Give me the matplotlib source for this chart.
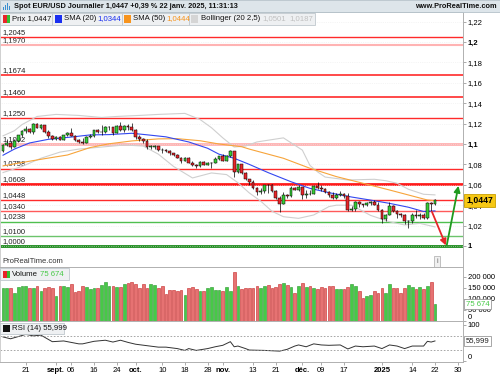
import numpy as np
import pandas as pd
import matplotlib
matplotlib.use('Agg')
import matplotlib.pyplot as plt
from matplotlib.patches import Rectangle

plt.rcParams['font.family'] = ['Liberation Sans', 'DejaVu Sans']

# ---------- данные (EUR/USD, дневные свечи) ----------
days = pd.bdate_range('2024-08-13', '2025-01-22')
days = days[~days.isin(pd.to_datetime(['2024-12-25', '2025-01-01']))]

opens = [1.0932, 1.0993, 1.1012, 1.0970, 1.1027, 1.1086, 1.1130, 1.1151, 1.1113, 1.1192, 1.1160, 1.1183, 1.1121, 1.1077,
         1.1047, 1.1073, 1.1044, 1.1087, 1.1111, 1.1083, 1.1038, 1.1017, 1.1011, 1.1073, 1.1076, 1.1133, 1.1116, 1.1117, 1.1163, 1.1163, 1.1111, 1.1179, 1.1133, 1.1180, 1.1164,
         1.1135, 1.1069, 1.1045, 1.1032, 1.0973, 1.0975, 1.0979, 1.0941, 1.0937, 1.0936, 1.0909, 1.0891, 1.0862, 1.0832, 1.0866, 1.0817, 1.0797, 1.0781, 1.0826, 1.0797, 1.0815, 1.0817, 1.0855,
         1.0884, 1.0833, 1.0879, 1.0931, 1.0729, 1.0800, 1.0719, 1.0654, 1.0623, 1.0565, 1.0529, 1.0543, 1.0597, 1.0596, 1.0542, 1.0473, 1.0415, 1.0496, 1.0488, 1.0566, 1.0553,
         1.0577, 1.0498, 1.0512, 1.0511, 1.0585, 1.0567, 1.0555, 1.0528, 1.0502, 1.0469, 1.0502, 1.0510, 1.0491, 1.0351, 1.0364, 1.0430, 1.0407, 1.0406, 1.0422, 1.0428, 1.0406,
         1.0354, 1.0265, 1.0308, 1.0389, 1.0344, 1.0317, 1.0301, 1.0244, 1.0245, 1.0308, 1.0290, 1.0300, 1.0273, 1.0418, 1.0412]
highs = [1.0996, 1.1047, 1.1030, 1.1048, 1.1090, 1.1135, 1.1174, 1.1160, 1.1201, 1.1202, 1.1196, 1.1190, 1.1135, 1.1090,
         1.1075, 1.1078, 1.1090, 1.1120, 1.1155, 1.1090, 1.1050, 1.1055, 1.1080, 1.1100, 1.1140, 1.1150, 1.1190, 1.1180, 1.1180, 1.1170, 1.1190, 1.1214, 1.1190, 1.1200, 1.1210,
         1.1145, 1.1085, 1.1055, 1.1045, 1.0990, 1.0990, 1.0985, 1.0960, 1.0950, 1.0940, 1.0915, 1.0905, 1.0870, 1.0870, 1.0870, 1.0835, 1.0800, 1.0830, 1.0838, 1.0820, 1.0825, 1.0870, 1.0885,
         1.0905, 1.0895, 1.0937, 1.0935, 1.0805, 1.0800, 1.0725, 1.0660, 1.0650, 1.0580, 1.0570, 1.0600, 1.0610, 1.0610, 1.0550, 1.0490, 1.0530, 1.0510, 1.0590, 1.0575, 1.0597,
         1.0580, 1.0545, 1.0545, 1.0590, 1.0630, 1.0595, 1.0565, 1.0540, 1.0530, 1.0520, 1.0535, 1.0520, 1.0515, 1.0395, 1.0445, 1.0440, 1.0415, 1.0430, 1.0445, 1.0455, 1.0430,
         1.0365, 1.0315, 1.0435, 1.0400, 1.0350, 1.0325, 1.0315, 1.0250, 1.0325, 1.0350, 1.0320, 1.0320, 1.0430, 1.0435, 1.0460]
lows = [1.0925, 1.0978, 1.0950, 1.0968, 1.1015, 1.1070, 1.1110, 1.1105, 1.1102, 1.1155, 1.1150, 1.1105, 1.1060, 1.1040,
        1.1040, 1.1035, 1.1040, 1.1075, 1.1075, 1.1030, 1.1005, 1.1000, 1.1005, 1.1060, 1.1070, 1.1110, 1.1090, 1.1105, 1.1140, 1.1085, 1.1105, 1.1125, 1.1120, 1.1140, 1.1125,
        1.1045, 1.1030, 1.1005, 1.0950, 1.0955, 1.0955, 1.0935, 1.0915, 1.0925, 1.0895, 1.0880, 1.0860, 1.0810, 1.0830, 1.0810, 1.0785, 1.0760, 1.0775, 1.0795, 1.0790, 1.0760, 1.0810, 1.0840,
        1.0830, 1.0830, 1.0870, 1.0680, 1.0715, 1.0710, 1.0650, 1.0595, 1.0560, 1.0500, 1.0510, 1.0520, 1.0520, 1.0525, 1.0460, 1.0332, 1.0415, 1.0470, 1.0480, 1.0545, 1.0535,
        1.0460, 1.0475, 1.0495, 1.0505, 1.0555, 1.0540, 1.0515, 1.0485, 1.0460, 1.0460, 1.0490, 1.0475, 1.0345, 1.0345, 1.0345, 1.0385, 1.0385, 1.0395, 1.0405, 1.0400, 1.0345,
        1.0225, 1.0245, 1.0305, 1.0335, 1.0275, 1.0285, 1.0215, 1.0177, 1.0230, 1.0270, 1.0265, 1.0265, 1.0265, 1.0340, 1.0405]
closes = [1.0993, 1.1012, 1.0970, 1.1027, 1.1086, 1.1130, 1.1151, 1.1113, 1.1192, 1.1160, 1.1183, 1.1121, 1.1077, 1.1047,
          1.1073, 1.1044, 1.1087, 1.1111, 1.1083, 1.1038, 1.1017, 1.1011, 1.1073, 1.1076, 1.1133, 1.1116, 1.1117, 1.1163, 1.1163, 1.1111, 1.1179, 1.1133, 1.1180, 1.1164, 1.1135,
          1.1069, 1.1045, 1.1032, 1.0973, 1.0975, 1.0979, 1.0941, 1.0937, 1.0936, 1.0909, 1.0891, 1.0862, 1.0832, 1.0866, 1.0817, 1.0797, 1.0781, 1.0826, 1.0797, 1.0815, 1.0817, 1.0855, 1.0884,
          1.0833, 1.0879, 1.0931, 1.0729, 1.0800, 1.0719, 1.0654, 1.0623, 1.0565, 1.0529, 1.0543, 1.0597, 1.0596, 1.0542, 1.0473, 1.0415, 1.0496, 1.0488, 1.0566, 1.0553, 1.0577,
          1.0498, 1.0512, 1.0511, 1.0585, 1.0567, 1.0555, 1.0528, 1.0502, 1.0469, 1.0502, 1.0510, 1.0491, 1.0351, 1.0364, 1.0430, 1.0407, 1.0406, 1.0422, 1.0428, 1.0406, 1.0354,
          1.0265, 1.0308, 1.0389, 1.0344, 1.0317, 1.0301, 1.0244, 1.0245, 1.0308, 1.0290, 1.0300, 1.0273, 1.0418, 1.0412, 1.0447]

volumes = [148, 151, 148, 126, 153, 159, 159, 151, 151, 161, 136, 151, 153, 148, 114, 161, 157, 154, 166, 130,
           136, 161, 153, 144, 148, 150, 164, 176, 161, 161, 156, 153, 166, 173, 176, 169, 151, 166, 148, 166,
           164, 151, 159, 122, 141, 141, 138, 139, 119, 148, 153, 145, 136, 135, 151, 153, 141, 141, 138, 153,
           136, 221, 159, 145, 148, 151, 148, 161, 151, 159, 164, 148, 154, 168, 174, 164, 153, 126, 161, 174,
           153, 159, 151, 145, 153, 148, 161, 161, 145, 147, 147, 153, 169, 161, 136, 103, 114, 118, 136, 126,
           151, 126, 169, 151, 151, 126, 151, 164, 156, 144, 153, 144, 159, 178, 75.674]  # milliers

# indicateurs (index de barre, valeur)
sma20_x = [0, 3, 7, 12, 18, 23, 28, 34, 38, 43, 49, 54, 57, 61, 65, 70, 76, 81, 86, 92, 97, 102, 107, 111, 114]
sma20_v = [1.089, 1.095, 1.101, 1.1046, 1.1068, 1.1089, 1.1092, 1.1105, 1.109, 1.107, 1.102, 1.0958, 1.090, 1.086, 1.080,
           1.0719, 1.063, 1.0565, 1.0523, 1.048, 1.045, 1.0418, 1.038, 1.0338, 1.0344]
sma50_x = [0, 4, 10, 17, 23, 28, 34, 41, 46, 52, 57, 63, 65, 74, 81, 88, 95, 102, 107, 112, 114]
sma50_v = [1.0785, 1.0812, 1.085, 1.0892, 1.0965, 1.1002, 1.103, 1.105, 1.1052, 1.1032, 1.100, 1.0973, 1.095, 1.086,
           1.0762, 1.068, 1.0615, 1.0549, 1.050, 1.0451, 1.0444]
bb_up_x = [0, 3, 5, 9, 14, 20, 26, 30, 36, 41, 48, 52, 55, 58, 61, 64, 67, 74, 79, 81, 83, 85, 91, 98, 101, 104, 107, 111, 114]
bb_up_v = [1.108, 1.113, 1.119, 1.127, 1.129, 1.128, 1.126, 1.127, 1.128, 1.129, 1.130, 1.124, 1.116, 1.106, 1.097, 1.098,
           1.102, 1.106, 1.094, 1.079, 1.0727, 1.0676, 1.0647, 1.0654, 1.064, 1.0615, 1.0556, 1.0507, 1.0501]
bb_lo_x = [0, 5, 10, 15, 20, 26, 32, 37, 41, 45, 50, 55, 59, 62, 65, 68, 71, 74, 78, 82, 86, 88, 92, 94, 97, 102, 106, 110, 114]
bb_lo_v = [1.072, 1.078, 1.086, 1.092, 1.095, 1.097, 1.099, 1.098, 1.090, 1.078, 1.0667, 1.0716, 1.070, 1.062, 1.052, 1.044,
           1.034, 1.0287, 1.0271, 1.0304, 1.0386, 1.040, 1.040, 1.036, 1.030, 1.0238, 1.0206, 1.0222, 1.0187]
rsi_x = [0, 2, 6, 8, 10, 13, 16, 20, 21, 24, 27, 29, 31, 33, 35, 38, 41, 43, 46, 48, 49, 51, 54, 56, 58, 60, 61, 62, 64,
         65, 69, 73, 75, 77, 78, 80, 82, 84, 86, 89, 91, 93, 95, 98, 100, 102, 104, 106, 108, 111, 112, 113, 114]
rsi_v = [67, 62, 74, 70, 72, 54, 56, 48, 48, 55, 58, 53, 58, 52, 47, 43, 39, 39, 35, 30, 35, 30, 35, 40, 44, 54, 40, 42, 35,
         31, 30, 28, 33, 42, 45, 40, 48, 45, 44, 45, 34, 42, 40, 42, 35, 45, 42, 35, 42, 42, 55, 53, 56.0]

levels = [1.2045, 1.1970, 1.1674, 1.1460, 1.1250, 1.1002, 1.0758, 1.0608, 1.0448, 1.0340, 1.0238, 1.0100, 1.0000]
level_colors = ['#ff2a2a', '#ffb3b3', '#ff2a2a', '#ff2a2a', '#ff2a2a', '#ffb0b0', '#ff2a2a', '#ff1a1a',
                '#ff2a2a', '#ff5a5a', '#4fbf4f', '#6cc46c', '#1a8a1a']
level_widths = [1.0, 1.5, 1.2, 1.2, 1.0, 2.0, 1.0, 2.0, 1.0, 1.0, 1.0, 1.0, 2.0]

# scénario dessiné : baisse vers 1,0000 puis remontée
arrow_down = ((113.2, 1.0336), (116.9, 1.0005))
arrow_up = ((117.1, 1.0005), (120.2, 1.059))

tick_dates = ['2024-08-21', '2024-09-02', '2024-09-06', '2024-09-16', '2024-09-24', '2024-10-01', '2024-10-10',
              '2024-10-18', '2024-10-28', '2024-11-01', '2024-11-13', '2024-11-21', '2024-12-02', '2024-12-09',
              '2024-12-17', '2025-01-02', '2025-01-14', '2025-01-22', '2025-01-30']
tick_labels = ['21', 'sept.', '06', '16', '24', 'oct.', '10', '18', '28', 'nov.', '13', '21', 'déc.', '09', '17',
               '2025', '14', '22', '30']
bold_ticks = {'sept.', 'oct.', 'nov.', 'déc.', '2025'}

o = np.array(opens); h = np.array(highs); l = np.array(lows); c = np.array(closes)
x = np.arange(len(c))
up = c >= o

W, H = 500, 375
def box(left, top, right, bottom):
    return [left / W, 1 - bottom / H, (right - left) / W, (bottom - top) / H]

fig = plt.figure(figsize=(5, 3.75), dpi=100)
ax = fig.add_axes(box(0, 12, 463, 267))
axv = fig.add_axes(box(0, 267, 463, 321), sharex=ax)
axr = fig.add_axes(box(0, 321, 463, 362), sharex=ax)

for a in (ax, axv, axr):
    for s in a.spines.values():
        s.set_color('#b0b0b0')
        s.set_linewidth(0.7)
    a.spines['left'].set_color('#d0d0d0')
    a.yaxis.tick_right()
    a.tick_params(axis='y', length=2, width=0.5, color='#888888', labelsize=5.5, pad=1.5)
    a.tick_params(axis='x', length=2, width=0.5, color='#888888', labelsize=5.5, pad=1.5)
ax.set_xlim(-0.8, 121.4)

# ---------- 1. Prix ----------
ax.set_ylim(0.9794, 1.2294)
yt = np.round(np.arange(1.0, 1.2201, 0.02), 2)
ax.set_yticks(yt)
ax.set_yticklabels([f'{v:g}'.replace('.', ',') for v in yt])
for lab, v in zip(ax.get_yticklabels(), yt):
    if v in (1.0, 1.1, 1.2):
        lab.set_fontweight('bold')
ax.grid(axis='y', color='#ececec', lw=0.5, ls=':')
ax.tick_params(axis='x', labelbottom=False, length=0)

for lv, col, lw in zip(levels, level_colors, level_widths):
    ax.axhline(lv, color=col, lw=lw, zorder=1)
    ax.text(0.006, lv + 0.0012, f'{lv:.4f}'.replace('.', ','), transform=ax.get_yaxis_transform(),
            fontsize=5.5, va='bottom', ha='left', color='#222222', zorder=1)

ax.plot(bb_up_x, bb_up_v, color='#cfcfcf', lw=0.8, zorder=2)
ax.plot(bb_lo_x, bb_lo_v, color='#cfcfcf', lw=0.8, zorder=2)
ax.plot(sma50_x, sma50_v, color='#f7a43a', lw=0.8, zorder=2)
ax.plot(sma20_x, sma20_v, color='#3347f0', lw=0.8, zorder=2)

ax.vlines(x, l, h, color='black', lw=0.5, zorder=3)
ax.bar(x, np.maximum(np.abs(c - o), 0.0003), bottom=np.minimum(o, c), width=0.72,
       color=np.where(up, '#36cc36', '#e8262a'), edgecolor='black', lw=0.35, zorder=4)

ax.annotate('', xy=arrow_down[1], xytext=arrow_down[0],
            arrowprops=dict(arrowstyle='-|>', color='#e8262a', lw=1.3, mutation_scale=9, shrinkA=0, shrinkB=0))
ax.annotate('', xy=arrow_up[1], xytext=arrow_up[0],
            arrowprops=dict(arrowstyle='-|>', color='#1f9a1f', lw=1.3, mutation_scale=9, shrinkA=0, shrinkB=0))

ax.text(0.006, 0.016, 'ProRealTime.com', transform=ax.transAxes, fontsize=5.5, color='#333333')
ax.text(0.942, 0.016, 'i', transform=ax.transAxes, fontsize=5, color='#666666',
        bbox=dict(boxstyle='square,pad=0.25', fc='#f0f0f0', ec='#aaaaaa', lw=0.5))

# ---------- 2. Volume ----------
vol = np.array(volumes) * 1000
axv.bar(x, vol, width=0.72, color=np.where(up, '#47c947', '#e67272'),
        edgecolor=np.where(up, '#26962a', '#c62828'), lw=0.4)
axv.set_ylim(0, 245000)
axv.set_yticks([0, 50000, 100000, 150000, 200000])
axv.set_yticklabels(['0', '50 000', '100 000', '150 000', '200 000'])
axv.get_yticklabels()[0].set_va('bottom')
axv.tick_params(axis='x', labelbottom=False, length=0)

# ---------- 3. RSI ----------
axr.plot(rsi_x, rsi_v, color='#333333', lw=0.7)
axr.axhline(70, color='#999999', lw=0.6, ls=(0, (2, 2)))
axr.axhline(30, color='#999999', lw=0.6, ls=(0, (2, 2)))
axr.set_ylim(-1.9, 110.9)
axr.set_yticks([0, 100])
axr.set_yticklabels(['0', '100'])
axr.get_yticklabels()[0].set_va('bottom')

cal = days.append(pd.bdate_range('2025-01-23', '2025-02-07'))
tick_pos = [cal.get_loc(pd.Timestamp(d)) for d in tick_dates]
axr.set_xticks(tick_pos)
axr.set_xticklabels(tick_labels)
for lab in axr.get_xticklabels():
    if lab.get_text() in bold_ticks:
        lab.set_fontweight('bold')

# ---------- en-tête et légendes ----------
fig.patches.append(Rectangle((0, 1 - 12 / H), 1, 12 / H, transform=fig.transFigure,
                             fc='#dde5ea', ec='#b5c2ca', lw=0.6))
fig.text(14 / W, 1 - 6.5 / H, 'Spot EUR/USD Journalier 1,0447 +0,39 % 22 janv. 2025, 11:31:13',
         fontsize=5.3, fontweight='bold', va='center', color='#111111')
fig.text(497 / W, 1 - 6.5 / H, 'www.ProRealTime.com', fontsize=5.3, fontweight='bold', va='center', ha='right',
         color='#111111')
for i, hgt in enumerate([3, 5, 7, 4]):
    fig.patches.append(Rectangle(((3 + 2 * i) / W, 1 - 10 / H), 1.2 / W, hgt / H, transform=fig.transFigure,
                                 fc='#3a8fd0', lw=0))


def legend_box(left, top, right, bottom):
    fig.patches.append(Rectangle((left / W, 1 - bottom / H), (right - left) / W, (bottom - top) / H,
                                 transform=fig.transFigure, fc='#eef0f2', ec='#c0c8cd', lw=0.6))


def swatch(left, yc, colors):
    n = len(colors)
    for k, col in enumerate(colors):
        fig.patches.append(Rectangle(((left + k * 7 / n) / W, 1 - (yc + 3.5) / H), (7 / n) / W, 7 / H,
                                     transform=fig.transFigure, fc=col, lw=0))


def ftext(px, py, s, color='#111111'):
    fig.text(px / W, 1 - py / H, s, fontsize=5.6, va='center', color=color)


legend_box(0, 13, 52, 25)
swatch(3, 19, ['#e8262a', '#33c233'])
ftext(12, 19, 'Prix 1,0447')
legend_box(52, 13, 122, 25)
swatch(55, 19, ['#1a2ff0'])
ftext(64, 19, 'SMA (20)')
ftext(97, 19, '1,0344', '#1a2ff0')
legend_box(122, 13, 189, 25)
swatch(124, 19, ['#f7941d'])
ftext(133, 19, 'SMA (50)')
ftext(166, 19, '1,0444', '#f7941d')
legend_box(189, 13, 315, 25)
swatch(191, 19, ['#d5d5d5'])
ftext(201, 19, 'Bollinger (20 2,5)')
ftext(262, 19, '1,0501', '#c0c0c0')
ftext(289, 19, '1,0187', '#c0c0c0')

legend_box(0, 268, 69, 280)
swatch(3, 274, ['#e8262a', '#33c233'])
ftext(12, 274, 'Volume')
ftext(40, 274, '75 674', '#47c947')
legend_box(0, 323, 64, 334)
swatch(3, 328.5, ['#111111'])
ftext(12, 328.5, 'RSI (14) 55,999')

# étiquettes de dernière valeur sur l'axe droit
fig.text(466 / W, 1 - 200.5 / H, '1,0447', fontsize=6.2, fontweight='bold', va='center', zorder=5,
         bbox=dict(boxstyle='square,pad=0.25', fc='#f6c814', ec='#c9a000', lw=0.6))
fig.text(466 / W, 1 - 304 / H, '75 674', fontsize=5.6, va='center', color='#47c947', zorder=5,
         bbox=dict(boxstyle='square,pad=0.2', fc='white', ec='#999999', lw=0.6))
fig.text(466 / W, 1 - 341 / H, '55,999', fontsize=5.6, va='center', color='#222222', zorder=5,
         bbox=dict(boxstyle='square,pad=0.2', fc='white', ec='#999999', lw=0.6))

plt.savefig('out.png', dpi=100)
plt.close()
